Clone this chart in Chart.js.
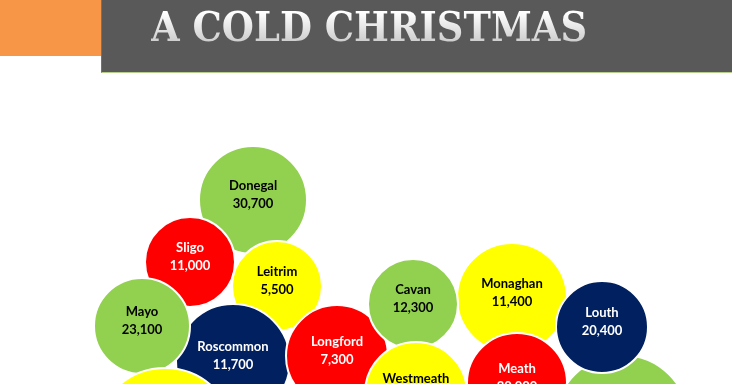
<!DOCTYPE html>
<html>
<head>
<meta charset="utf-8">
<script src="https://cdn.jsdelivr.net/npm/chart.js@4/dist/chart.umd.min.js"></script>
<style>
  html, body { margin: 0; padding: 0; background: #ffffff; width: 732px; height: 384px; overflow: hidden; }
  #wrap { position: absolute; left: 0; top: 0; width: 732px; height: 384px; }
  #chart { position: absolute; left: 0; top: 0; }
  #orange { position: absolute; left: 0; top: 0; width: 101px; height: 56px; background: #F79646; z-index: 2; }
  #banner { position: absolute; left: 101px; top: 0; width: 631px; height: 72px; background: #595959; border-bottom: 1px solid #b5cf8a; border-left: 1px solid #6f7a55; z-index: 2; }
  #title { position: absolute; left: 151px; top: -2px; z-index: 3; font-family: "DejaVu Serif Condensed", "DejaVu Serif", serif; font-stretch: condensed; font-weight: bold; font-size: 41px; letter-spacing: 0px; line-height: 58px;
    background: linear-gradient(#ffffff 25%, #c4c4c4 85%); -webkit-background-clip: text; background-clip: text; color: transparent; white-space: nowrap; }
</style>
</head>
<body>
<div id="wrap">
  <canvas id="chart" width="732" height="384"></canvas>
  <div id="orange"></div>
  <div id="banner"></div>
  <div id="title">A COLD CHRISTMAS</div>
</div>
<script>
// ---- data ----
const counties = ["Donegal", "Sligo", "Leitrim", "Roscommon", "Mayo", "Longford", "Galway", "Monaghan", "Cavan", "Westmeath", "Meath", "Dublin", "Louth"];
const households = [30700, 11000, 5500, 11700, 23100, 7300, null, 11400, 12300, null, 30000, null, 20400];
const bandColors = ["#92D050", "#FF0000", "#FFFF00", "#002060", "#92D050", "#FF0000", "#FFFF00", "#FFFF00", "#92D050", "#FFFF00", "#FF0000", "#92D050", "#002060"];
const textColors = ["#000000", "#ffffff", "#000000", "#ffffff", "#000000", "#ffffff", "#000000", "#000000", "#000000", "#000000", "#ffffff", "#000000", "#ffffff"];
// ---- bubble layout (data space 0..732 x 0..384) ----
const layoutX = [253, 190, 277, 233, 142, 337, 165, 512, 413, 416, 517, 622, 602];
const layoutY = [200, 262, 286, 361, 326, 356, 438, 298, 304, 393, 383, 422, 327];
const layoutR = [54, 45, 45, 57, 48, 51, 70, 55, 45, 51, 50, 67, 46];

const points = counties.map((c, i) => ({ x: layoutX[i], y: layoutY[i], r: layoutR[i] }));

const fmt = v => v.toString().replace(/\B(?=(\d{3})+(?!\d))/g, ",");

const labelPlugin = {
  id: 'bubbleLabels',
  afterDatasetsDraw(chart) {
    const ctx = chart.ctx;
    const meta = chart.getDatasetMeta(0);
    ctx.save();
    ctx.font = "bold 13px Lato, 'Open Sans', sans-serif";
    ctx.textAlign = "center";
    ctx.textBaseline = "middle";
    meta.data.forEach((el, i) => {
      ctx.fillStyle = textColors[i];
      ctx.fillText(counties[i], el.x, el.y - 14);
      if (households[i] !== null) ctx.fillText(fmt(households[i]), el.x, el.y + 4);
    });
    ctx.restore();
  }
};

new Chart(document.getElementById('chart'), {
  type: 'bubble',
  data: {
    datasets: [{
      data: points,
      backgroundColor: bandColors,
      borderColor: "#ffffff",
      borderWidth: 2,
      clip: false
    }]
  },
  options: {
    responsive: false,
    animation: false,
    events: [],
    layout: { padding: 0, autoPadding: false },
    plugins: { legend: { display: false }, tooltip: { enabled: false } },
    scales: {
      x: { type: 'linear', min: 0, max: 732, display: false },
      y: { type: 'linear', min: 0, max: 384, reverse: true, display: false }
    }
  },
  plugins: [labelPlugin]
});
</script>
</body>
</html>
